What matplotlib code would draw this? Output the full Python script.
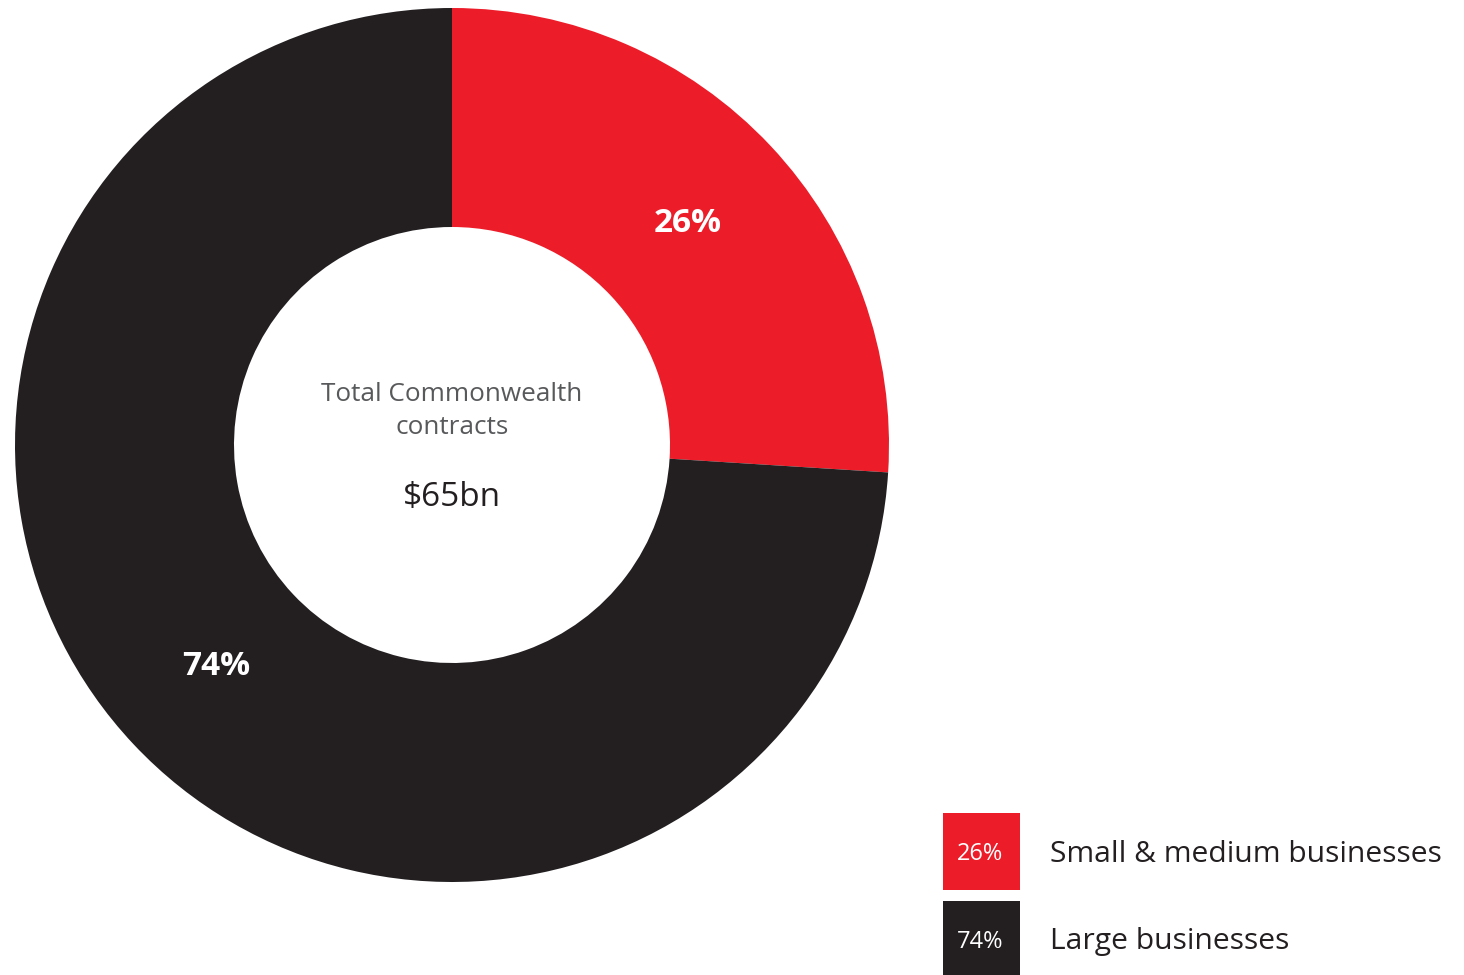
import matplotlib.pyplot as plt
from matplotlib.patches import Rectangle

plt.rcParams['font.family'] = ['Open Sans', 'DejaVu Sans']

# contract share by business size
categories = ['Small & medium businesses', 'Large businesses']
shares = [26, 74]
colors = ['#ED1C29', '#231F20']
total_label = '$65bn'

fig = plt.figure(figsize=(14.64, 9.75), dpi=100)
ax = fig.add_axes([0, 0, 1, 1])

cx, cy, r_out = 452, 530, 437
wedges, texts, autotexts = ax.pie(
    shares, colors=colors, startangle=90, counterclock=False,
    center=(cx, cy), radius=r_out, frame=True,
    wedgeprops=dict(width=219, linewidth=0),
    autopct=lambda p: '%d%%' % round(p), pctdistance=0.74,
    textprops=dict(color='white', fontsize=24, fontweight='bold'))
ax.set_xlim(0, 1464)
ax.set_ylim(0, 975)
ax.set_aspect('equal')
ax.axis('off')

ax.text(cx, cy + 34, 'Total Commonwealth\ncontracts', ha='center', va='center',
        fontsize=18.8, color='#58595B', linespacing=1.4)
ax.text(cx, cy - 52, total_label, ha='center', va='center',
        fontsize=24, color='#231F20')

# legend boxes with the percentage inside
for i, (cat, val, col) in enumerate(zip(categories, shares, colors)):
    y0 = 975 - 890 - i * 88
    ax.add_patch(Rectangle((943, y0), 77, 77, color=col, lw=0))
    ax.text(943 + 37, y0 + 36, '%d%%' % val, ha='center', va='center',
            color='white', fontsize=17)
    ax.text(1050, y0 + 36, cat, ha='left', va='center',
            color='#231F20', fontsize=21.6)

fig.savefig('out.png', dpi=100)
